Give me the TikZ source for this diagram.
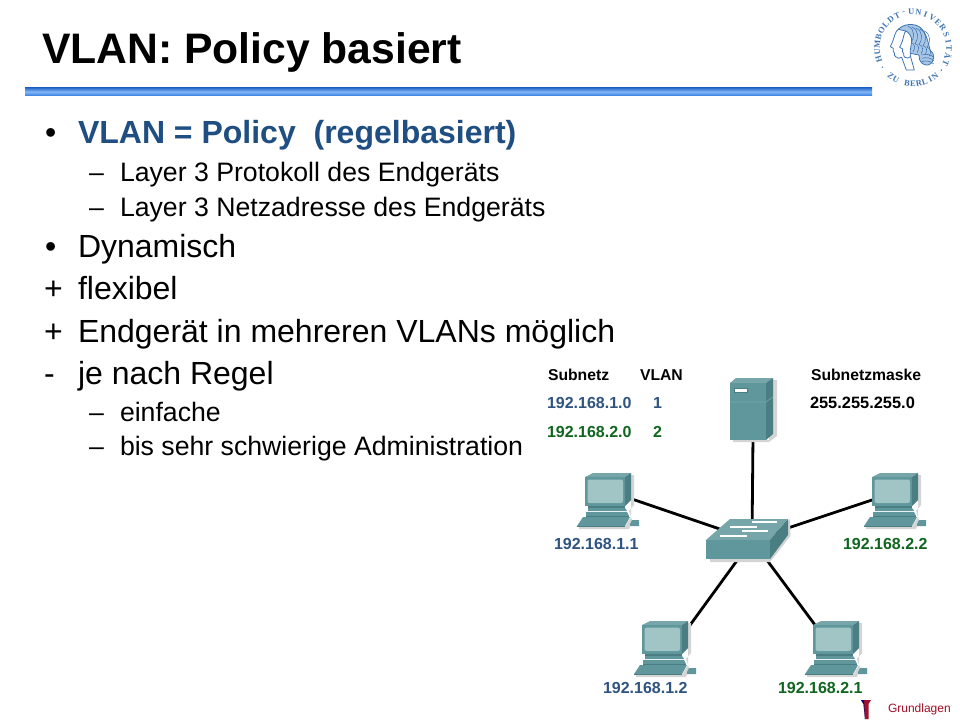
\documentclass[tikz,border=0pt]{standalone}
\usepackage{fontspec}
\setmainfont{Liberation Sans}
\newfontfamily\logofont{Liberation Serif}
\usetikzlibrary{calc}
\definecolor{vblue}{HTML}{1F4E82}
\definecolor{lblue}{HTML}{2F5480}
\definecolor{lgreen}{HTML}{11661F}
\definecolor{dred}{HTML}{A01028}
\definecolor{tfront}{HTML}{5F979C}
\definecolor{tside}{HTML}{4B7E83}
\definecolor{ttop}{HTML}{76A6AA}
\definecolor{tscreen}{HTML}{A0C5C4}
\definecolor{tshadow}{HTML}{D4D4D4}
\definecolor{logob}{HTML}{3F74B0}
\definecolor{logofill}{HTML}{A8C6E6}
\definecolor{rulea}{HTML}{2F6FD0}
\definecolor{ruleb}{HTML}{84B8F5}
\definecolor{rulec}{HTML}{3A82E2}
\tikzset{
  every node/.style={inner sep=0pt,outer sep=0pt,anchor=base west},
  title/.style={font=\fontsize{32}{36}\selectfont\bfseries,text=black},
  lvlone/.style={font=\fontsize{24}{28}\selectfont,text=black},
  lvlhead/.style={font=\fontsize{24}{28}\selectfont\bfseries,text=vblue},
  lvltwo/.style={font=\fontsize{20}{24}\selectfont,text=black},
  hdr/.style={font=\fontsize{11.8}{14}\selectfont\bfseries,text=black},
  ipb/.style={font=\fontsize{12}{14}\selectfont\bfseries,text=lblue},
  ipg/.style={font=\fontsize{12}{14}\selectfont\bfseries,text=lgreen},
  ipk/.style={font=\fontsize{12.3}{14}\selectfont\bfseries,text=black},
  link/.style={draw=black,line width=2.1pt},
  port/.style={coordinate},
  logoletter/.style={font=\logofont\fontsize{6.3}{7}\selectfont\bfseries,text=logob,anchor=center},
  hair/.style={draw=logob,line width=0.4pt},
  faceline/.style={draw=logob,line width=0.6pt,line join=round},
  pcicon/.pic={
    \fill[tshadow] (46,2)--(49,2)--(49,32)--(44,38)--(47,47)--(44,56)--(-6,56)--(-6,54)--(40,54)--(46,44)--cycle;
    \fill[ttop] (0,4)--(8,0)--(46,0)--(40,4)--cycle;
    \fill[tside] (40,4)--(46,0)--(46,27)--(40,33)--cycle;
    \fill[tfront] (0,4)--(40,4)--(40,33)--(0,33)--cycle;
    \fill[tscreen,rounded corners=1.5pt] (2.5,6.5) rectangle (38,30);
    \fill[tfront] (3,35)--(40,35)--(42,38)--(3,38)--cycle;
    \fill[tside] (3,33)--(40,33)--(40,35)--(3,35)--cycle;
    \fill[tfront] (1,39)--(42,39)--(44,43)--(1,43)--cycle;
    \fill[tside] (1,43)--(44,43)--(44,44)--(1,44)--cycle;
    \fill[tfront] (-8,53)--(-2,44)--(45,44)--(40,53)--cycle;
    \fill[tside] (-8,53)--(40,53)--(40,54)--(-8,54)--cycle;
    \fill[tfront] (45,51)--(47,47)--(54,47)--(54,53)--(45,53)--cycle;
  },
  servericon/.pic={
    \fill[tshadow] (39,2)--(47,2)--(47,58)--(39,64)--(3,64)--(3,62)--(39,62)--cycle;
    \fill[ttop] (0,5)--(6,0)--(43,0)--(36,5)--cycle;
    \fill[tside] (36,5)--(43,0)--(43,56)--(36,62)--cycle;
    \fill[tfront] (0,5)--(36,5)--(36,62)--(0,62)--cycle;
    \draw[ttop,line width=0.5pt] (0,24)--(36,24)--(43,19);
    \fill[white] (4,10) rectangle (17,14);
    \draw[tside,line width=0.5pt] (4,10) rectangle (17,14);
  },
  switchicon/.pic={
    \fill[tshadow] (64,21)--(84,0)--(84.5,17)--(64,43)--(4,43)--(4,40)--cycle;
    \fill[ttop] (0,21)--(24,0)--(82,0)--(64,21)--cycle;
    \fill[tside] (64,21)--(82,0)--(82,16)--(64,40)--cycle;
    \fill[tfront] (0,21)--(64,21)--(64,40)--(0,40)--cycle;
    \foreach \ax/\ay/\bx in {46/3/71,24/8/51,36/12/62,14/17/41}
      \draw[white,line width=0.9pt] (\ax,\ay)--(\bx,\ay);
  }
}
\begin{document}
\begin{tikzpicture}[x=0.75pt,y=-0.75pt]
\useasboundingbox (0,0) rectangle (960,720);
\fill[white] (0,0) rectangle (960,720);

% rule
\shade[top color=rulea,bottom color=rulec,middle color=ruleb] (25,88) rectangle (872,95.5);

% text
\node[title] (ttl) at (42,64) {VLAN: Policy basiert};
\node[lvlone] (b1) at (45,144) {•};
\node[lvlhead] (t1) at (78,144) {VLAN = Policy\ \ (regelbasiert)};
\node[lvltwo] (d1) at (89,182) {–};
\node[lvltwo] (t2) at (120,182) {Layer 3 Protokoll des Endgeräts};
\node[lvltwo] (d2) at (89,217) {–};
\node[lvltwo] (t3) at (120,217) {Layer 3 Netzadresse des Endgeräts};
\node[lvlone] (b2) at (45,258) {•};
\node[lvlone] (t4) at (78,258) {Dynamisch};
\node[lvlone] (b3) at (44,300) {+};
\node[lvlone] (t5) at (78,300) {flexibel};
\node[lvlone] (b4) at (44,342) {+};
\node[lvlone] (t6) at (78,342) {Endgerät in mehreren VLANs möglich};
\node[lvlone] (b5) at (44,384) {-};
\node[lvlone] (t7) at (78,384) {je nach Regel};
\node[lvltwo] (d3) at (89,421) {–};
\node[lvltwo] (t8) at (120,421) {einfache};
\node[lvltwo] (d4) at (89,455) {–};
\node[lvltwo] (t9) at (120,455) {bis sehr schwierige Administration};

% network
\node[port] (sw) at (752,540) {};
\node[port] (srv) at (753,436) {};
\node[port] (pca) at (626,497) {};
\node[port] (pcb) at (878,498) {};
\node[port] (pcc) at (685,632) {};
\node[port] (pcd) at (818,629) {};
\draw[link] (sw)--(srv);
\draw[link] (sw)--(pca);
\draw[link] (sw)--(pcb);
\draw[link] (sw)--(pcc);
\draw[link] (sw)--(pcd);
\pic at (730,378) {servericon};
\pic at (585,473) {pcicon};
\pic at (872,473) {pcicon};
\pic at (642,621) {pcicon};
\pic at (813,621) {pcicon};
\pic at (706,519) {switchicon};

\node[hdr] (h1) at (548,380) {Subnetz};
\node[hdr] (h2) at (640,380) {VLAN};
\node[hdr] (h3) at (811,380) {Subnetzmaske};
\node[ipb] (n1) at (547,408.5) {192.168.1.0};
\node[ipb] (v1) at (653,408.5) {1};
\node[ipk] (m1) at (810,408.5) {255.255.255.0};
\node[ipg] (n2) at (547,437) {192.168.2.0};
\node[ipg] (v2) at (653,437) {2};
\node[ipb] (a1) at (554,549) {192.168.1.1};
\node[ipg] (a2) at (843,549) {192.168.2.2};
\node[ipb] (a3) at (603,693) {192.168.1.2};
\node[ipg] (a4) at (778,693) {192.168.2.1};

% footer
\node[font=\fontsize{9}{11}\selectfont,text=dred] (g) at (888,712) {Grundlagen};
\fill[dred] (861,700)--(871,700)--(868.5,704)--(868.5,719)--(865,719)--(863.5,704)--cycle;
\fill[blue!50!black] (861,700)--(864,700)--(865,719)--(863.5,704)--cycle;

% logo
\foreach \ch [count=\i from 0] in {H,U,M,B,O,L,D,T,-,U,N,I,V,E,R,S,I,T,Ä,T}{
  \pgfmathsetmacro{\a}{198-11.7*\i}
  \node[logoletter,rotate=\a-90] (la\i) at ({913+36*cos(\a)},{48-36*sin(\a)}) {\ch};
}
\foreach \ch [count=\i from 0] in {Z,U,B,E,R,L,I,N}{
  \pgfmathsetmacro{\a}{232+(\i+ifthenelse(\i>1,1,0))*9.5}
  \node[logoletter,rotate=\a+90] (lb\i) at ({913+36*cos(\a)},{48-36*sin(\a)}) {\ch};
}
\fill[logob] ({913+36*cos(212)},{48-36*sin(212)}) circle (0.8);
\fill[logob] ({913+36*cos(-38)},{48-36*sin(-38)}) circle (0.8);
\begin{scope}[xshift=663.75pt,yshift=-15pt,x=0.25pt,y=-0.25pt]
% coordinates: crop from (885,20), 3x
\path[faceline,fill=logofill] (40,28)..controls (55,12) and (85,8)..(105,22)..controls (125,38) and (130,70)..(135,90)..controls (150,100) and (152,125)..(130,135)..controls (115,138) and (100,125)..(102,105)--(75,100)--cycle;
\foreach \r/\s in {0/0,12/3,24/6,36/9,48/14}
  \draw[hair] (68+\r,18+\s)..controls (92+\r,28+\s) and (88+\r,55+\s)..(78+\r,68+\s)
              ..controls (90+\r,70+\s) and (92+\r,85+\s)..(84+\r,95+\s);
\foreach \s in {0,10,20}
  \draw[hair] (110,105+\s)..controls (125,100+\s) and (140,105+\s)..(146,112+\s);
\path[faceline,fill=white] (40,28)..controls (30,35) and (28,50)..(24,62)--(16,80)--(25,85)..controls (23,92) and (25,96)..(28,99)..controls (26,104) and (30,108)..(32,110)..controls (36,116) and (44,116)..(50,112)--(64,150)--(88,150)--(78,115)..controls (72,100) and (78,80)..(80,65)..controls (82,50) and (70,35)..(62,33)--cycle;
\draw[faceline] (62,33)..controls (56,42) and (55,55)..(52,64)--(44,82)--(53,87)..controls (51,94) and (53,98)..(56,101)..controls (54,106) and (58,110)..(60,112)..controls (64,116) and (72,114)..(76,110);
\end{scope}
\end{tikzpicture}
\end{document}
